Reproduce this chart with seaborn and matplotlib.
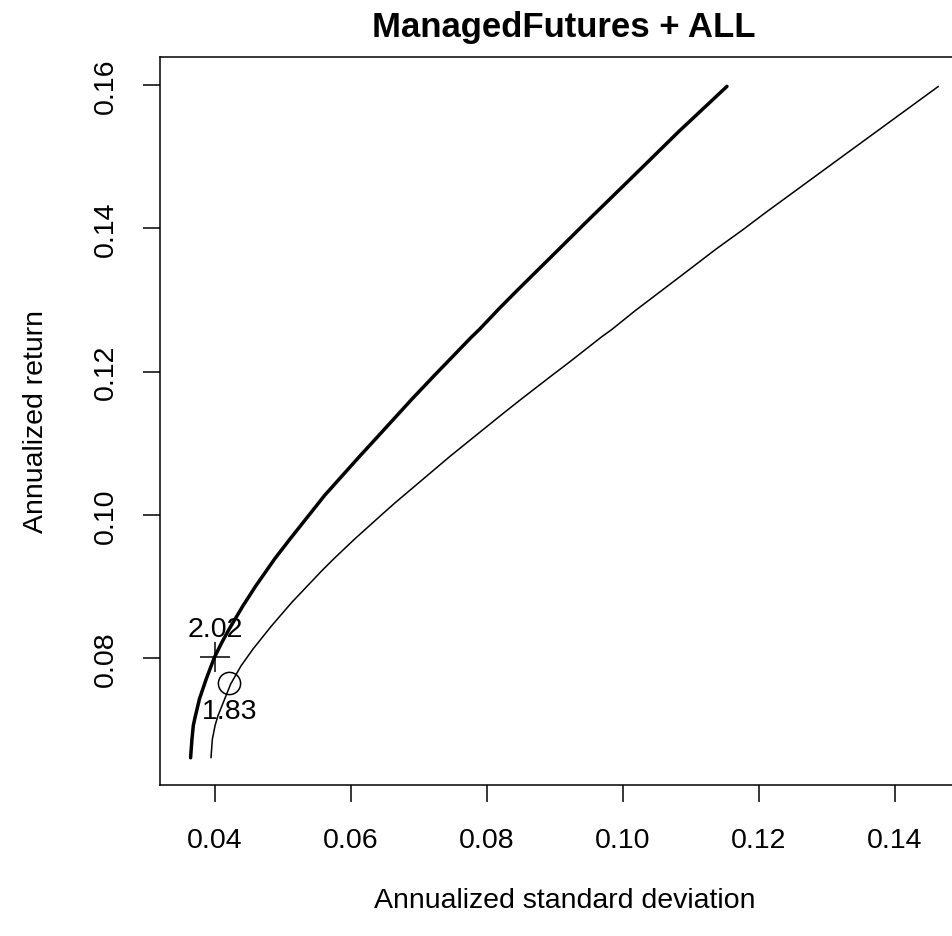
import matplotlib
matplotlib.use("Agg")
import matplotlib.pyplot as plt
import seaborn as sns
import pandas as pd

# Efficient frontier of the ManagedFutures-constrained portfolio (thick line)
mf_return = [0.0661, 0.0687, 0.0706, 0.0715, 0.0743, 0.0771, 0.0801, 0.0822,
             0.0841, 0.0873, 0.0901, 0.0939, 0.0966, 0.1027, 0.1080, 0.1110,
             0.1136, 0.1162, 0.1194, 0.1248, 0.1259, 0.1287, 0.1311, 0.1371,
             0.1404, 0.1492, 0.1534, 0.1598]
mf_sd = [0.0364, 0.0366, 0.0368, 0.0370, 0.0377, 0.0387, 0.0399, 0.0410,
         0.0421, 0.0441, 0.0460, 0.0488, 0.0510, 0.0561, 0.0611, 0.0640,
         0.0665, 0.0690, 0.0722, 0.0777, 0.0789, 0.0817, 0.0842, 0.0906,
         0.0941, 0.1036, 0.1081, 0.1153]

# Efficient frontier of all assets (thin line)
all_return = [0.0661, 0.0687, 0.0706, 0.0719, 0.0764, 0.0789, 0.0813, 0.0845,
              0.0878, 0.0922, 0.0939, 0.0966, 0.1001, 0.1017, 0.1082, 0.1141,
              0.1162, 0.1195, 0.1213, 0.1248, 0.1259, 0.1285, 0.1334, 0.1371,
              0.1397, 0.1422, 0.1508, 0.1598]
all_sd = [0.0394, 0.0396, 0.0400, 0.0404, 0.0423, 0.0438, 0.0456, 0.0483,
          0.0513, 0.0557, 0.0575, 0.0605, 0.0646, 0.0665, 0.0746, 0.0823,
          0.0851, 0.0896, 0.0921, 0.0968, 0.0984, 0.1018, 0.1086, 0.1137,
          0.1175, 0.1210, 0.1334, 0.1464]

# Maximum Sharpe-ratio portfolios and their ratios
tangency_sd = [0.0400, 0.0421]
tangency_return = [0.0802, 0.0765]
tangency_sharpe = ["2.02", "1.83"]
tangency_marker = ["+", "o"]
tangency_size = [22, 16]
tangency_offset = [20, -20]

x_ticks = [0.04, 0.06, 0.08, 0.10, 0.12, 0.14]
y_ticks = [0.08, 0.10, 0.12, 0.14, 0.16]

sns.set_theme(style="white")
plt.rcParams["font.family"] = ["Liberation Sans", "DejaVu Sans"]
plt.rcParams["axes.edgecolor"] = "black"
plt.rcParams["text.color"] = "black"
plt.rcParams["axes.labelcolor"] = "black"
plt.rcParams["xtick.color"] = "black"
plt.rcParams["ytick.color"] = "black"

W, H = 952, 937
fig = plt.figure(figsize=(W / 100, H / 100), dpi=100)
ax = fig.add_axes([160 / W, 1 - 786 / H, (969 - 160) / W, (786 - 58) / H])

mf = pd.DataFrame({"sd": mf_sd, "ret": mf_return})
al = pd.DataFrame({"sd": all_sd, "ret": all_return})
sns.lineplot(data=mf, x="sd", y="ret", sort=False, estimator=None,
             color="black", linewidth=2.5, ax=ax)
sns.lineplot(data=al, x="sd", y="ret", sort=False, estimator=None,
             color="black", linewidth=1.1, ax=ax)

for sd, ret, lab, mk, ms, off in zip(tangency_sd, tangency_return, tangency_sharpe,
                                     tangency_marker, tangency_size, tangency_offset):
    ax.plot(sd, ret, marker=mk, markersize=ms, markerfacecolor="none",
            markeredgecolor="black", markeredgewidth=1.1, linestyle="none")
    ax.annotate(lab, (sd, ret), xytext=(0, off), textcoords="offset points",
                ha="center", va="center", fontsize=20.5)

ax.set_xlim(0.0319, 0.1509)
ax.set_ylim(0.0623, 0.1639)
ax.set_xticks(x_ticks)
ax.set_xticklabels([f"{v:.2f}" for v in x_ticks])
ax.set_yticks(y_ticks)
ax.set_yticklabels([f"{v:.2f}" for v in y_ticks], rotation=90, va="center")

for s in ax.spines.values():
    s.set_linewidth(1.1)
    s.set_color("black")
ax.tick_params(axis="both", direction="out", length=12, width=1.1,
               labelsize=20.5, bottom=True, left=True)
ax.tick_params(axis="x", pad=18)
ax.tick_params(axis="y", pad=17.5)

ax.set_xlabel("Annualized standard deviation", fontsize=20.5, labelpad=25)
ax.set_ylabel("Annualized return", fontsize=20.5, labelpad=32)
fig.text(564 / W, 1 - 27 / H, "ManagedFutures + ALL", ha="center", va="center",
         fontsize=25, fontweight="bold")

fig.savefig("out.png", dpi=100)
